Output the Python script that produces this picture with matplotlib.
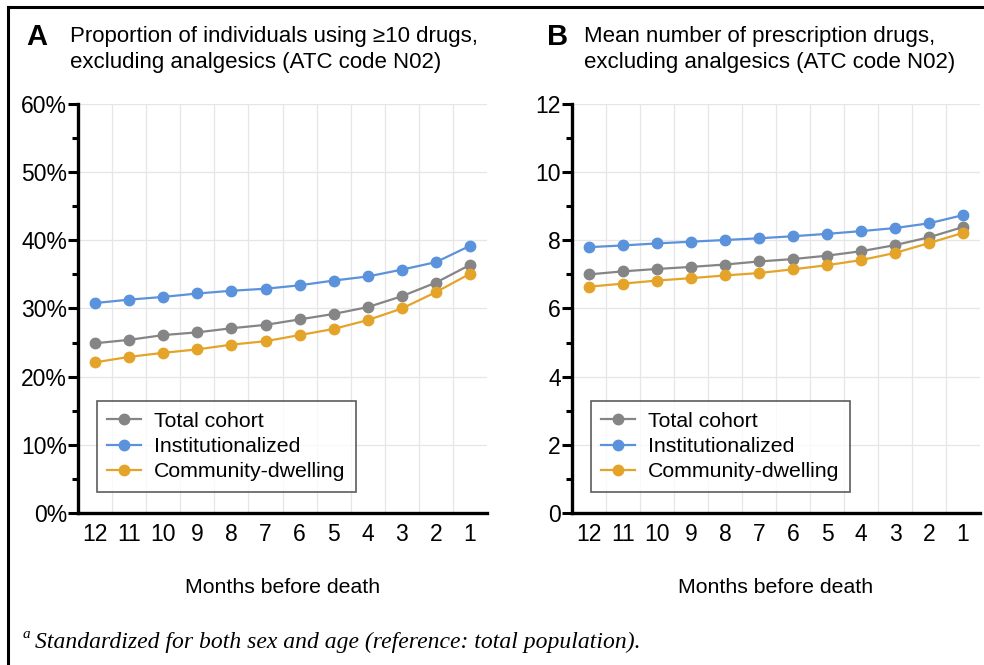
import matplotlib.pyplot as plt
from matplotlib.lines import Line2D
from matplotlib.ticker import MultipleLocator, FuncFormatter

plt.rcParams['font.family'] = ['Liberation Sans', 'DejaVu Sans']

months = [12, 11, 10, 9, 8, 7, 6, 5, 4, 3, 2, 1]
series_names = ['Total cohort', 'Institutionalized', 'Community-dwelling']
colors = ['#858585', '#5b92dc', '#e4a42a']

# panel A: proportion using >=10 drugs (%)
pct_total = [24.9, 25.4, 26.1, 26.5, 27.1, 27.6, 28.4, 29.2, 30.2, 31.8, 33.8, 36.4]
pct_inst = [30.8, 31.3, 31.7, 32.2, 32.6, 32.9, 33.4, 34.1, 34.7, 35.7, 36.8, 39.2]
pct_comm = [22.1, 22.9, 23.5, 24.0, 24.7, 25.2, 26.1, 27.0, 28.3, 30.0, 32.4, 35.1]

# panel B: mean number of prescription drugs
mean_total = [7.00, 7.09, 7.16, 7.22, 7.29, 7.38, 7.45, 7.55, 7.68, 7.86, 8.09, 8.39]
mean_inst = [7.80, 7.85, 7.91, 7.96, 8.01, 8.06, 8.12, 8.19, 8.27, 8.36, 8.50, 8.74]
mean_comm = [6.64, 6.73, 6.82, 6.89, 6.97, 7.04, 7.15, 7.27, 7.42, 7.63, 7.92, 8.22]

fig = plt.figure(figsize=(9.84, 6.65), dpi=100)
axA = fig.add_axes([0.0793, 0.2286, 0.4157, 0.615])
axB = fig.add_axes([0.5813, 0.2286, 0.4147, 0.615])

x = list(range(len(months)))


def style_axis(ax, ymax, major, minor):
    ax.set_xlim(-0.5, len(months) - 0.5)
    ax.set_ylim(0, ymax)
    for s in ['top', 'right']:
        ax.spines[s].set_visible(False)
    ax.spines['left'].set_linewidth(2.4)
    ax.spines['bottom'].set_linewidth(2.4)
    ax.set_xticks(x)
    ax.set_xticklabels([str(m) for m in months])
    ax.tick_params(axis='x', length=0, labelsize=16.5, pad=7)
    ax.yaxis.set_major_locator(MultipleLocator(major))
    ax.yaxis.set_minor_locator(MultipleLocator(minor))
    ax.tick_params(axis='y', which='major', length=7, width=2.2, labelsize=16.5, pad=1)
    ax.tick_params(axis='y', which='minor', length=4, width=2.2)
    # vertical grid between categories, horizontal at major ticks
    for gx in range(len(months) - 1):
        ax.axvline(gx + 0.5, color='#e6e6e6', lw=0.9, zorder=0)
    ax.grid(axis='y', which='major', color='#e6e6e6', lw=0.9, zorder=0)
    ax.set_axisbelow(True)
    ax.set_xlabel('Months before death', fontsize=15.3, labelpad=23)


def draw_lines(ax, data):
    for vals, name, c in zip(data, series_names, colors):
        ax.plot(x, vals, color=c, lw=1.6, marker='o', markersize=7.5,
                label=name, zorder=3, clip_on=False)
    leg = ax.legend(loc='lower left', bbox_to_anchor=(0.046, 0.051), fontsize=15.3,
                    frameon=True, fancybox=False, handlelength=1.6,
                    borderpad=0.5, labelspacing=0.3, handletextpad=0.6,
                    borderaxespad=0)
    leg.get_frame().set_edgecolor('#333333')
    leg.get_frame().set_linewidth(1.2)


draw_lines(axA, [pct_total, pct_inst, pct_comm])
style_axis(axA, 60, 10, 5)
axA.yaxis.set_major_formatter(FuncFormatter(lambda v, p: f'{v:.0f}%'))

draw_lines(axB, [mean_total, mean_inst, mean_comm])
style_axis(axB, 12, 2, 1)

# panel letters and titles
fig.text(0.027, 0.944, 'A', fontsize=21, fontweight='bold', va='center')
fig.text(0.071, 0.925, 'Proportion of individuals using \u226510 drugs,\nexcluding analgesics (ATC code N02)',
         fontsize=16, va='center', linespacing=1.32)
fig.text(0.556, 0.944, 'B', fontsize=21, fontweight='bold', va='center')
fig.text(0.594, 0.925, 'Mean number of prescription drugs,\nexcluding analgesics (ATC code N02)',
         fontsize=16, va='center', linespacing=1.32)

# footnote
fig.text(0.023, 0.040, 'a', fontsize=11, family='Liberation Serif', style='italic', va='baseline')
fig.text(0.036, 0.026, 'Standardized for both sex and age (reference: total population).',
         fontsize=17, family='Liberation Serif', style='italic', va='baseline')

# outer frame
fig.add_artist(Line2D([0.008, 1.0], [0.989, 0.989], color='black', lw=2.2, transform=fig.transFigure))
fig.add_artist(Line2D([0.008, 0.008], [0.0, 0.989], color='black', lw=2.2, transform=fig.transFigure))

fig.savefig('out.png', dpi=100, facecolor='white')
